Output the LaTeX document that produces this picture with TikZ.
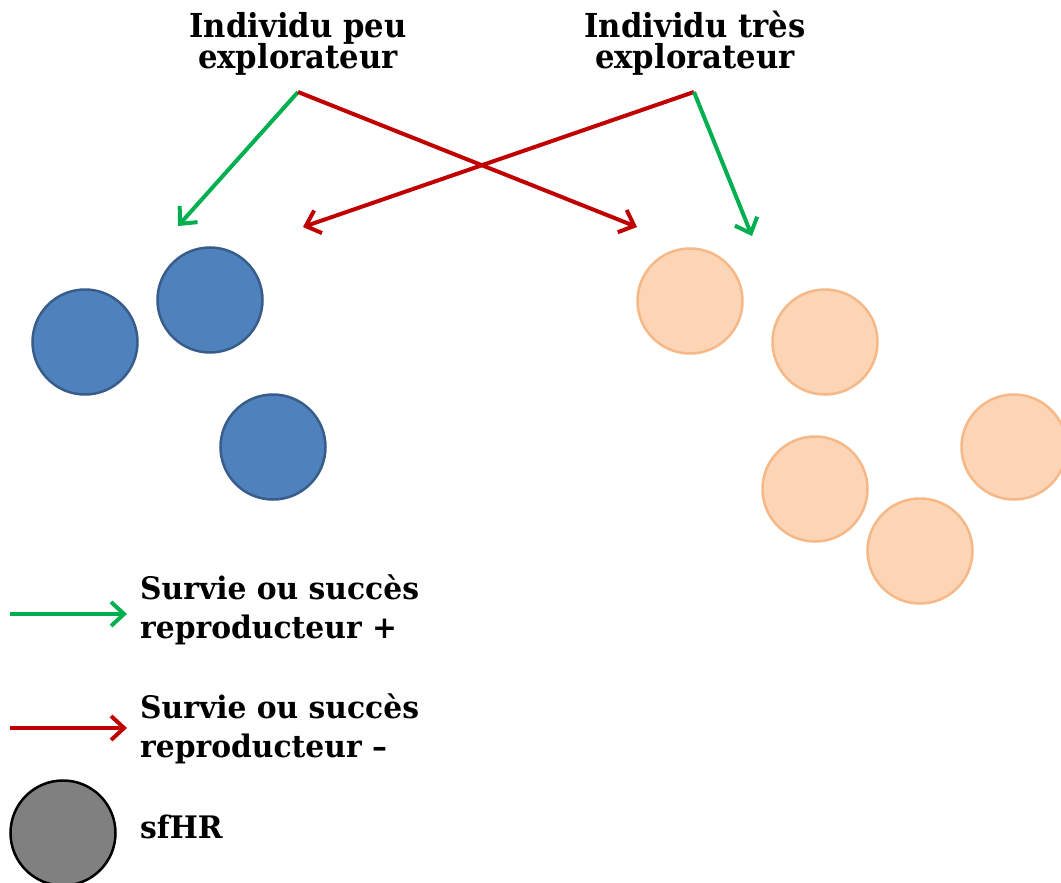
\documentclass[tikz,border=0pt]{standalone}
\usepackage{fontspec}
\setmainfont{DejaVu Serif}
\newfontfamily\titlefont[FakeStretch=0.93]{DejaVu Serif}
\newfontfamily\legfont[FakeStretch=0.96]{DejaVu Serif}
\usetikzlibrary{arrows.meta}
\definecolor{bluefill}{HTML}{4F81BD}
\definecolor{blueline}{HTML}{385D8A}
\definecolor{orfill}{HTML}{FBD5B5}
\definecolor{orline}{HTML}{F7B887}
\definecolor{posgreen}{HTML}{00B050}
\definecolor{negred}{HTML}{C00000}
\definecolor{grayfill}{HTML}{808080}
\tikzset{
  ttl/.style={font=\titlefont\bfseries\fontsize{33}{32}\selectfont, align=center, anchor=base, inner sep=0pt},
  leg/.style={font=\legfont\bfseries\fontsize{31}{39}\selectfont, align=left, anchor=base west, inner sep=0pt},
  blob/.style={circle, minimum size=105pt, inner sep=0pt, line width=2.5pt},
  lowex/.style={blob, fill=bluefill, draw=blueline},
  highex/.style={blob, fill=orfill, draw=orline},
  legblob/.style={blob, fill=grayfill, draw=black},
  arr/.style={line width=4pt, -{Straight Barb[length=13pt,width=24pt,line width=4pt]}},
  posarr/.style={arr, draw=posgreen},
  negarr/.style={arr, draw=negred}
}
\begin{document}
\begin{tikzpicture}[x=1pt,y=-1pt]
\useasboundingbox[fill=white] (0,0) rectangle (1061,883);
\clip (0,0) rectangle (1061,883);
% titles (anchor base = last line)
\node[ttl] (tlow) at (298,69) {Individu peu\\explorateur};
\node[ttl] (thigh) at (695,69) {Individu très\\explorateur};
\coordinate (slow) at (298,92);
\coordinate (shigh) at (694,92);
% blue circles
\node[lowex] (b1) at (85,342) {};
\node[lowex] (b2) at (210,300) {};
\node[lowex] (b3) at (273,447) {};
% orange circles
\node[highex] (o1) at (690,301) {};
\node[highex] (o2) at (825,342) {};
\node[highex] (o3) at (1014,447) {};
\node[highex] (o4) at (815,489) {};
\node[highex] (o5) at (920,551) {};
% arrow ends
\coordinate (egl) at (178,226);
\coordinate (erl) at (303,227);
\coordinate (err) at (637,227);
\coordinate (egr) at (752,236);
\draw[posarr] (slow) -- (egl);
\draw[negarr] (slow) -- (err);
\draw[negarr] (shigh) -- (erl);
\draw[posarr] (shigh) -- (egr);
% legend
\coordinate (lg1) at (10,614);
\coordinate (lg2) at (127,614);
\coordinate (lr1) at (10,728);
\coordinate (lr2) at (127,728);
\draw[posarr] (lg1) -- (lg2);
\draw[negarr] (lr1) -- (lr2);
\node[leg] (lpos) at (140,638) {Survie ou succès\\reproducteur +};
\node[leg] (lneg) at (140,757) {Survie ou succès\\reproducteur –};
\node[legblob] (lhr) at (63,833) {};
\node[leg] (lsf) at (140,838) {sfHR};
\end{tikzpicture}
\end{document}
